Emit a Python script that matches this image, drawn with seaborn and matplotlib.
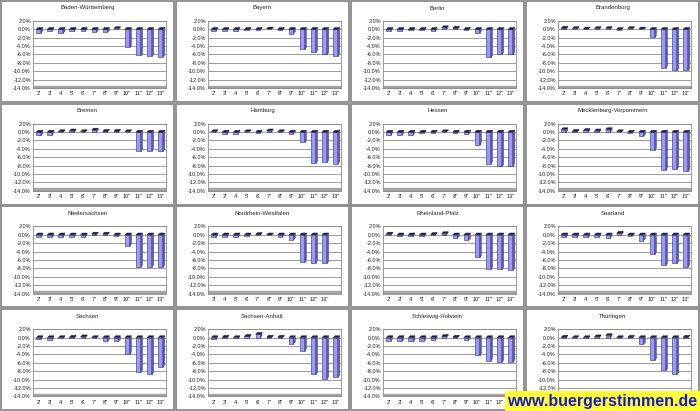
import numpy as np
import pandas as pd
import matplotlib
matplotlib.use("Agg")
import matplotlib.pyplot as plt
from matplotlib.patches import Polygon, Rectangle
import seaborn as sns

# Kategorien (Bundestagswahlen)
labels = ["2'", "3'", "4'", "5'", "6'", "7''", "8''", "9''", "10''", "11''", "12''", "13''"]
labels_nrw = labels[1:]

laender = ["Baden-Württemberg", "Bayern", "Berlin", "Brandenburg",
           "Bremen", "Hamburg", "Hessen", "Mecklenburg-Vorpommern",
           "Niedersachsen", "Nordrhein-Westfalen", "Rheinland-Pfalz", "Saarland",
           "Sachsen", "Sachsen-Anhalt", "Schleswig-Holstein", "Thüringen"]

# Werte in Prozent, aus dem Bild geschaetzt
bw = [-0.8, -0.3, -0.9, -0.4, -0.4, -0.7, -0.7, 0.2, -4.2, -6.2, -6.4, -6.6]
by = [-0.3, -0.3, -0.3, -0.2, -0.1, 0.1, -0.2, -1.0, -4.8, -5.5, -6.0, -6.4]
be = [-0.3, -0.3, -0.2, -0.2, -0.4, 0.4, 0.3, -0.1, -0.8, -6.7, -5.9, -6.0]
bb = [0.3, 0.2, 0.1, 0.2, 0.2, -0.1, 0.2, 0.1, -1.9, -9.2, -9.8, -9.8]
hb = [-0.8, -0.6, 0.1, 0.3, 0.1, 0.5, 0.2, 0.2, 0.1, -4.5, -4.4, -4.6]
hh = [0.1, -0.5, -0.4, 0.1, -0.1, 0.3, 0.1, -0.4, -2.4, -7.4, -7.2, -7.5]
he = [-0.6, -0.6, -0.6, -0.2, -0.1, 0.1, -0.2, -0.5, -3.0, -7.5, -8.2, -8.0]
mv = [0.6, 0.2, 0.4, 0.3, 0.6, 0.1, -0.1, -1.0, -4.3, -9.0, -8.8, -9.4]
ni = [-0.4, -0.5, -0.4, -0.4, -0.4, 0.2, 0.2, -0.3, -2.6, -7.6, -7.6, -7.7]
nw = [-0.5, -0.4, -0.5, -0.2, 0.1, -0.1, -0.5, -1.2, -6.4, -6.6, -6.8]
rp = [0.2, -0.3, -0.3, -0.3, 0.1, 0.3, -0.8, -1.3, -5.4, -8.2, -8.2, -8.4]
sl = [-0.5, -0.5, -0.6, -0.5, -0.7, 0.4, -0.2, -1.4, -4.6, -7.2, -6.8, -7.6]
sn = [-0.3, -0.5, -0.2, 0.1, 0.2, -0.1, -0.9, -0.9, -3.9, -8.2, -8.8, -7.0]
st = [-0.3, 0.1, -0.2, 0.3, 0.8, 0.1, 0.1, -1.5, -3.1, -8.8, -9.8, -9.4]
sh = [-0.7, -0.8, -0.9, -0.7, -0.5, 0.3, 0.1, -0.6, -4.2, -5.5, -5.8, -5.8]
th = [0.1, 0.0, -0.2, 0.2, 0.5, -0.2, 0.1, -1.6, -5.4, -7.8, -8.8, 0.1]

werte = [bw, by, be, bb, hb, hh, he, mv, ni, nw, rp, sl, sn, st, sh, th]

yticks = [2, 0, -2, -4, -6, -8, -10, -12, -14]

sns.set_theme(style="white")
plt.rcParams['font.family'] = ['Liberation Sans', 'DejaVu Sans']

W, H = 700, 411
fig = plt.figure(figsize=(7, 4.11), dpi=100)
fig.patch.set_facecolor("white")

pw, ph = 175, H / 4

for i, (name, vals) in enumerate(zip(laender, werte)):
    r, c = divmod(i, 4)
    px0, py0 = c * pw, r * ph

    # Rahmen um jedes Diagramm
    fig.patches.append(Rectangle(((px0 + 0.8) / W, 1 - (py0 + ph - 0.8) / H),
                                 (pw - 1.6) / W, (ph - 1.6) / H,
                                 transform=fig.transFigure, fill=False,
                                 edgecolor="#8a8a8a", linewidth=1.3))
    fig.text((px0 + pw / 2) / W, 1 - (py0 + 8) / H, name, ha="center",
             va="center", fontsize=4.3, color="#222222")

    ax = fig.add_axes([(px0 + 33) / W, 1 - (py0 + 88) / H, 133 / W, 67 / H])
    cats = labels_nrw if name == "Nordrhein-Westfalen" else labels
    df = pd.DataFrame({"kat": cats, "wert": vals})
    sns.barplot(data=df, x="kat", y="wert", order=cats, ax=ax,
                color="#9999ff", saturation=1, width=0.42,
                edgecolor="#30305a", linewidth=0.4, zorder=3)

    # 3D-Effekt: Seitenflaeche und Deckel
    dx, dy = 0.17, 0.45
    for p in list(ax.patches):
        x0, w = p.get_x(), p.get_width()
        y0, h = p.get_y(), p.get_height()
        lo, hi = min(y0, y0 + h), max(y0, y0 + h)
        ax.add_patch(Polygon([(x0 + w, lo), (x0 + w + dx, lo + dy),
                              (x0 + w + dx, hi + dy), (x0 + w, hi)],
                             closed=True, facecolor="#5a5ab4", edgecolor="#30305a",
                             linewidth=0.3, zorder=3))
        ax.add_patch(Polygon([(x0, hi), (x0 + dx, hi + dy),
                              (x0 + w + dx, hi + dy), (x0 + w, hi)],
                             closed=True, facecolor="#1c1c48", edgecolor="#1c1c48",
                             linewidth=0.3, zorder=4))

    ax.set_xlim(-0.5, 11.5)
    ax.set_ylim(-14, 2)
    ax.set_yticks(yticks)
    ax.set_yticklabels([f"{v:.1f}%" for v in yticks])
    for v in yticks:
        ax.axhline(v, color="#8c8c8c", linewidth=0.6, zorder=1)
    # Boden
    ax.fill_between([-0.5, 11.5], -14, -13.45, color="#a6a6a6", zorder=2)
    ax.axhline(-14, color="#6e6e6e", linewidth=0.9, zorder=2)

    ax.set_xlabel("")
    ax.set_ylabel("")
    ax.tick_params(axis="both", labelsize=4.0, length=0, pad=1.5, colors="#222222")
    ax.tick_params(axis="x", pad=2.5)
    for s in ax.spines.values():
        s.set_color("#8c8c8c")
        s.set_linewidth(0.6)
    ax.set_facecolor("white")

# Wasserzeichen
fig.patches.append(Rectangle((505 / W, 0), 195 / W, 20 / H, transform=fig.transFigure,
                             facecolor="#ffff33", edgecolor="none", zorder=10))
fig.text(602 / W, 10 / H, "www.buergerstimmen.de", ha="center", va="center",
         fontsize=11.5, fontweight="bold", color="#1a1acc", zorder=11)

fig.savefig("out.png", dpi=100, facecolor="white")
